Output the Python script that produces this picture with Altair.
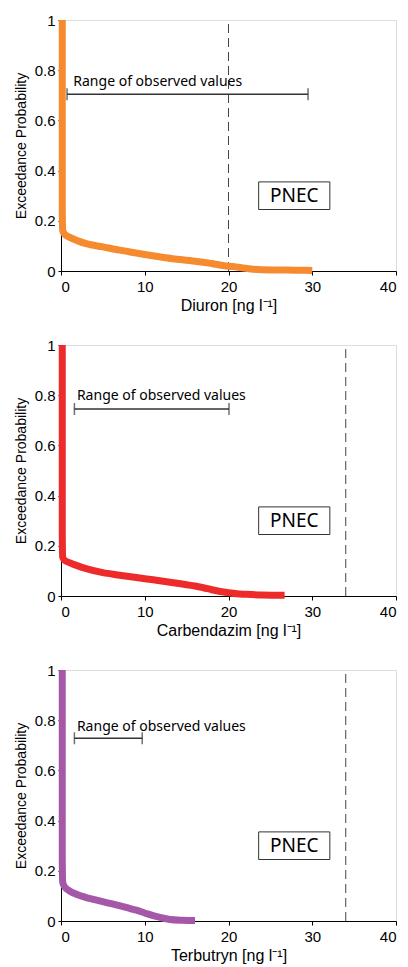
import altair as alt
import pandas as pd

# ---- data ----
diuron_x = [0.15, 0.15, 0.15, 0.2, 0.4, 1, 2, 3, 5, 7, 10, 12.5, 16, 18, 19.5, 20.5, 22, 23, 24, 26, 28, 30]
diuron_p = [1.0, 0.6, 0.25, 0.162, 0.148, 0.135, 0.12, 0.109, 0.096, 0.083, 0.066, 0.053, 0.039, 0.03, 0.021, 0.018, 0.011, 0.007, 0.005, 0.004, 0.003, 0.002]

carb_x = [0.15, 0.15, 0.15, 0.2, 0.4, 1, 2, 3, 5, 7, 10, 13, 15, 16, 17, 18, 19, 20, 21, 22, 24, 26.7]
carb_p = [1.0, 0.6, 0.25, 0.155, 0.143, 0.133, 0.12, 0.109, 0.093, 0.083, 0.069, 0.055, 0.045, 0.04, 0.033, 0.025, 0.018, 0.013, 0.009, 0.007, 0.004, 0.003]

terb_x = [0.15, 0.15, 0.15, 0.2, 0.4, 1, 2, 4, 6, 8, 9, 10, 11, 12, 13, 14.5, 16]
terb_p = [1.0, 0.6, 0.25, 0.155, 0.138, 0.12, 0.105, 0.085, 0.069, 0.052, 0.043, 0.032, 0.021, 0.013, 0.006, 0.003, 0.002]

names = ["Diuron", "Carbendazim", "Terbutryn"]
colors = ["#F58A2E", "#EE2B2B", "#A558A8"]
pnec = [20, 34, 34]
range_lo = [0.72, 1.6, 1.6]
range_hi = [29.5, 20.06, 9.7]
range_y = [0.704, 0.745, 0.728]
label_x = [1.47, 1.9, 1.9]
label_y = [0.737, 0.78, 0.757]
box_x = [23.6, 32.1]
box_y = [0.245, 0.355]

curves = [(diuron_x, diuron_p), (carb_x, carb_p), (terb_x, terb_p)]

FONT = "Liberation Sans"
ANN = "Noto Sans"

panels = []
for i, name in enumerate(names):
    xs, ps = curves[i]
    df = pd.DataFrame({"x": xs, "p": ps, "o": list(range(len(xs)))})
    xscale = alt.Scale(domain=[0, 40], nice=False)
    yscale = alt.Scale(domain=[0, 1], nice=False)
    xaxis = alt.Axis(values=[0, 10, 20, 30, 40], title=f"{name} [ng l\u207b\u00b9]", grid=False,
                     labelFont=FONT, labelFontSize=15, titleFont=FONT, titleFontSize=16,
                     titleFontWeight="normal", tickSize=4, labelPadding=4, titlePadding=3,
                     domainColor="black", tickColor="black", labelColor="black", titleColor="black")
    yaxis = alt.Axis(values=[0, 0.2, 0.4, 0.6, 0.8, 1], format="~g", title="Exceedance Probability",
                     grid=False, labelFont=FONT, labelFontSize=15, titleFont=FONT, titleFontSize=14,
                     titleFontWeight="normal", tickSize=3, labelPadding=3, titlePadding=6,
                     domainColor="black", tickColor="black", labelColor="black", titleColor="black")

    pn = pd.DataFrame({"x": [pnec[i]], "y": [0], "y2": [1]})
    rule_pnec = alt.Chart(pn).mark_rule(color="#444", strokeDash=[9, 5], strokeWidth=1).encode(
        x=alt.X("x:Q", scale=xscale, axis=xaxis), y=alt.Y("y:Q", scale=yscale, axis=yaxis), y2="y2:Q")

    line = alt.Chart(df).mark_line(color=colors[i], strokeWidth=7, strokeCap="butt", strokeJoin="round",
                                   interpolate="monotone").encode(
        x=alt.X("x:Q", scale=xscale), y=alt.Y("p:Q", scale=yscale), order="o:Q")

    rg = pd.DataFrame({"x": [range_lo[i]], "x2": [range_hi[i]], "y": [range_y[i]]})
    rng = alt.Chart(rg).mark_rule(color="#333", strokeWidth=1.5).encode(x="x:Q", x2="x2:Q", y="y:Q")
    caps_df = pd.DataFrame({"x": [range_lo[i], range_hi[i]], "y": [range_y[i]] * 2})
    caps = alt.Chart(caps_df).mark_tick(color="#333", orient="vertical", size=12, thickness=1.5).encode(
        x="x:Q", y="y:Q")
    lab = alt.Chart(pd.DataFrame({"x": [label_x[i]], "y": [label_y[i]], "t": ["Range of observed values"]})).mark_text(
        align="left", baseline="alphabetic", font=ANN, fontSize=14, color="black").encode(
        x="x:Q", y="y:Q", text="t:N")

    box = alt.Chart(pd.DataFrame({"x": [box_x[0]], "x2": [box_x[1]], "y": [box_y[0]], "y2": [box_y[1]]})).mark_rect(
        fill="white", stroke="#333", strokeWidth=1).encode(x="x:Q", x2="x2:Q", y="y:Q", y2="y2:Q")
    boxt = alt.Chart(pd.DataFrame({"x": [(box_x[0] + box_x[1]) / 2], "y": [(box_y[0] + box_y[1]) / 2], "t": ["PNEC"]})).mark_text(
        align="center", baseline="middle", font=ANN, fontSize=19, color="black").encode(
        x="x:Q", y="y:Q", text="t:N")

    panels.append(alt.layer(rule_pnec, line, rng, caps, lab, box, boxt).properties(width=335, height=251))

chart = alt.vconcat(*panels, spacing=23).properties(
    padding={"left": 13, "top": 12, "right": 5, "bottom": 5}
).configure_view(stroke=None).configure(background="white")

chart.save("out.html", embed_options={"renderer": "svg", "actions": False})
